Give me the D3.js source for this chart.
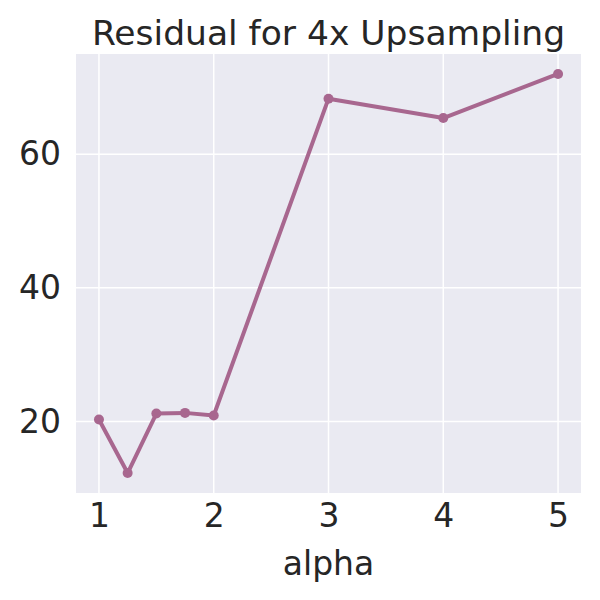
<!DOCTYPE html>
<html><head><meta charset="utf-8">
<script src="https://cdn.jsdelivr.net/npm/d3@7"></script>
<style>body{margin:0;background:#fff;} text{font-family:"DejaVu Sans",sans-serif;fill:#262626;}</style>
</head><body><svg id="c" width="600" height="600"></svg>
<script>
const alphas = [1, 1.25, 1.5, 1.75, 2, 3, 4, 5];
const residuals = [20.3, 12.3, 21.2, 21.3, 20.9, 68.3, 65.4, 72.0];
const xTicks = [1, 2, 3, 4, 5];
const yTicks = [20, 40, 60];
const title = "Residual for 4x Upsampling";
const xLabel = "alpha";

const svg = d3.select("#c");
const L = 76, R = 581, T = 54, B = 493;
const FS = 33;
const xMin = d3.min(alphas), xMax = d3.max(alphas), xm = (xMax - xMin) * 0.05;
const yMin = d3.min(residuals), yMax = d3.max(residuals), ym = (yMax - yMin) * 0.05;
const x = d3.scaleLinear().domain([xMin - xm, xMax + xm]).range([L, R]);
const y = d3.scaleLinear().domain([yMin - ym, yMax + ym]).range([B, T]);

svg.append("rect").attr("x", L).attr("y", T).attr("width", R - L).attr("height", B - T).attr("fill", "#EAEAF2");
svg.append("g").selectAll("line").data(xTicks).join("line")
  .attr("x1", d => x(d)).attr("x2", d => x(d)).attr("y1", T).attr("y2", B)
  .attr("stroke", "#fff").attr("stroke-width", 1.5);
svg.append("g").selectAll("line").data(yTicks).join("line")
  .attr("y1", d => y(d)).attr("y2", d => y(d)).attr("x1", L).attr("x2", R)
  .attr("stroke", "#fff").attr("stroke-width", 1.5);

const xa = svg.append("g").attr("transform", `translate(0,${B})`)
  .call(d3.axisBottom(x).tickValues(xTicks).tickSize(0).tickPadding(11).tickFormat(d3.format("d")));
xa.select(".domain").remove();
xa.selectAll("text").attr("font-size", FS).attr("font-family", "DejaVu Sans").attr("fill", "#262626");
const ya = svg.append("g").attr("transform", `translate(${L},0)`)
  .call(d3.axisLeft(y).tickValues(yTicks).tickSize(0).tickPadding(15).tickFormat(d3.format("d")));
ya.select(".domain").remove();
ya.selectAll("text").attr("font-size", FS).attr("font-family", "DejaVu Sans").attr("fill", "#262626");

const col = "#a8678f";
const pts = alphas.map((a, i) => [a, residuals[i]]);
svg.append("path").datum(pts)
  .attr("d", d3.line().x(d => x(d[0])).y(d => y(d[1])))
  .attr("fill", "none").attr("stroke", col).attr("stroke-width", 4).attr("stroke-linejoin", "round");
svg.append("g").selectAll("circle").data(pts).join("circle")
  .attr("cx", d => x(d[0])).attr("cy", d => y(d[1])).attr("r", 5).attr("fill", col);

svg.append("text").attr("x", (L + R) / 2).attr("y", 45).attr("text-anchor", "middle")
  .attr("font-size", 34.5).text(title);
svg.append("text").attr("x", (L + R) / 2).attr("y", 575).attr("text-anchor", "middle")
  .attr("font-size", FS).text(xLabel);
</script></body></html>
